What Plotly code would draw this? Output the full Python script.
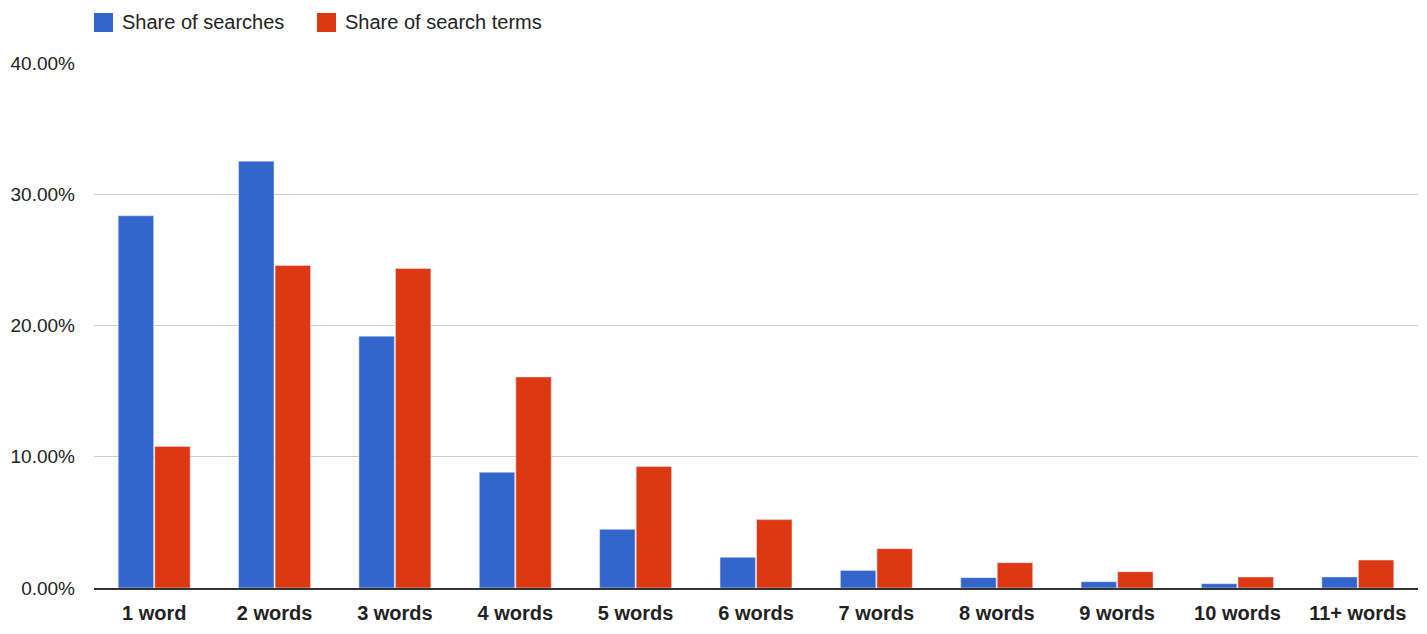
#!/usr/bin/env python3

import plotly.graph_objects as go

categories = ["1 word", "2 words", "3 words", "4 words", "5 words", "6 words",
              "7 words", "8 words", "9 words", "10 words", "11+ words"]
share_searches = [28.36, 32.52, 19.19, 8.82, 4.47, 2.34, 1.34, 0.79, 0.48, 0.33, 0.84]
share_terms = [10.79, 24.57, 24.34, 16.08, 9.26, 5.21, 3.0, 1.93, 1.24, 0.84, 2.13]
y_ticks = [0, 10, 20, 30, 40]

names = ["Share of searches", "Share of search terms"]
colors = ["#3366CC", "#DC3912"]
FONT = "Liberation Sans, Arial, sans-serif"

fig = go.Figure()
fig.add_trace(go.Bar(name=names[0], x=categories, y=share_searches, marker_color=colors[0]))
fig.add_trace(go.Bar(name=names[1], x=categories, y=share_terms, marker_color=colors[1]))

# page has an 8px body margin, so the figure is shifted; work in page pixels
OFF = 8
plot_l, plot_r, plot_t, plot_b = 94, 1418, 63, 588
W, H = 1427 - OFF, 634 - OFF
L, T = plot_l - OFF, plot_t - OFF
R, B = W - (plot_r - OFF), H - (plot_b - OFF)
pw, ph = plot_r - plot_l, plot_b - plot_t


def px_x(x):
    return (x - plot_l) / pw


def px_y(y):
    return (plot_b - y) / ph


# legend drawn by hand to get the large square swatches
legend_x = [94, 317]
for lx, name, col in zip(legend_x, names, colors):
    fig.add_shape(type="rect", xref="paper", yref="paper",
                  x0=px_x(lx), x1=px_x(lx + 19), y0=px_y(32), y1=px_y(13),
                  fillcolor=col, line_width=0)
    fig.add_annotation(text=name, xref="paper", yref="paper",
                       x=px_x(lx + 26), y=px_y(22.5),
                       xanchor="left", yanchor="middle", showarrow=False,
                       font=dict(size=20, family=FONT, color="#222222"))

fig.update_layout(
    width=W, height=H,
    margin=dict(l=L, r=R, t=T, b=B),
    plot_bgcolor="white", paper_bgcolor="white",
    font=dict(family=FONT, size=20, color="#222222"),
    barmode="group", bargap=0.393, bargroupgap=0.03,
    showlegend=False,
    hovermode=False,
)
fig.update_yaxes(range=[0, 40], tickvals=y_ticks,
                 ticktext=["%.2f%%" % v for v in y_ticks],
                 tickfont=dict(size=19, family=FONT, color="#222222"),
                 showgrid=True, gridcolor="#cccccc", gridwidth=1,
                 zeroline=False, showline=False, ticklabelstandoff=18,
                 automargin=False)
fig.update_xaxes(showline=True, linecolor="#333333", linewidth=1.5,
                 tickfont=dict(size=20, family=FONT, color="#222222", weight="bold"),
                 ticks="", ticklabelstandoff=6, automargin=False)

fig.write_html("out.html")
